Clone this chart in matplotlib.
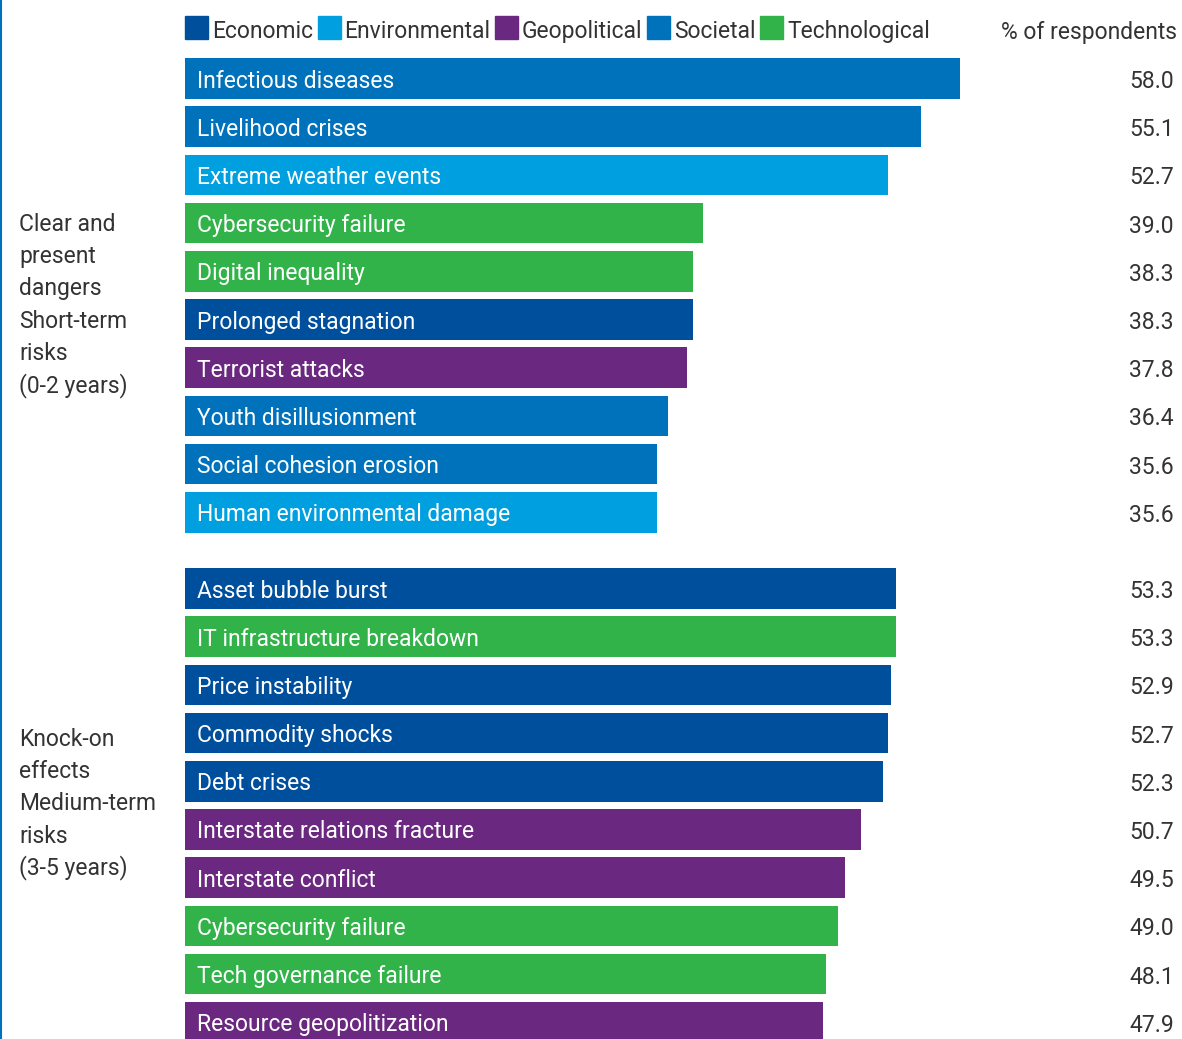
import matplotlib.pyplot as plt
from matplotlib.patches import Rectangle
from matplotlib.lines import Line2D

plt.rcParams['font.family'] = ['Roboto', 'DejaVu Sans']

# Data
short_labels = ['Infectious diseases', 'Livelihood crises', 'Extreme weather events',
                'Cybersecurity failure', 'Digital inequality', 'Prolonged stagnation',
                'Terrorist attacks', 'Youth disillusionment', 'Social cohesion erosion',
                'Human environmental damage']
short_values = [58.0, 55.1, 52.7, 39.0, 38.3, 38.3, 37.8, 36.4, 35.6, 35.6]
short_cats = ['Societal', 'Societal', 'Environmental', 'Technological', 'Technological',
              'Economic', 'Geopolitical', 'Societal', 'Societal', 'Environmental']

medium_labels = ['Asset bubble burst', 'IT infrastructure breakdown', 'Price instability',
                 'Commodity shocks', 'Debt crises', 'Interstate relations fracture',
                 'Interstate conflict', 'Cybersecurity failure', 'Tech governance failure',
                 'Resource geopolitization']
medium_values = [53.3, 53.3, 52.9, 52.7, 52.3, 50.7, 49.5, 49.0, 48.1, 47.9]
medium_cats = ['Economic', 'Technological', 'Economic', 'Economic', 'Economic',
               'Geopolitical', 'Geopolitical', 'Technological', 'Technological', 'Geopolitical']

categories = ['Economic', 'Environmental', 'Geopolitical', 'Societal', 'Technological']
colors = {'Economic': '#004f9d', 'Environmental': '#009fdf', 'Geopolitical': '#6b2880',
          'Societal': '#0071bb', 'Technological': '#32b34a'}

group_titles = [['Clear and', 'present', 'dangers', 'Short-term', 'risks', '(0-2 years)'],
                ['Knock-on', 'effects', 'Medium-term', 'risks', '(3-5 years)']]

W, H = 1182, 1039
fig = plt.figure(figsize=(W / 100, H / 100), dpi=100)

# bar area starts at 185px; value axis does not start exactly at zero
x0_px, ppu, xmin = 185, 13.53, 0.72
ax = fig.add_axes([x0_px / W, 0, 1 - x0_px / W, 1])
pitch, top_px = 48.2, 78.5
ax.set_xlim(xmin, xmin + (W - x0_px) / ppu)
ax.set_ylim((H - top_px) / pitch, -top_px / pitch)
ax.axis('off')
tr = ax.get_yaxis_transform()
aw = W - x0_px

fs = 16.5
cap = 9 / pitch  # half cap height in row units, to centre caps on bars
gap = 28 / pitch
groups = [(short_labels, short_values, short_cats, 0),
          (medium_labels, medium_values, medium_cats, 10 + gap)]
text_color = '#333333'
for labels, values, cats, offset in groups:
    ys = [offset + i for i in range(len(values))]
    ax.barh(ys, values, height=40.5 / pitch, color=[colors[c] for c in cats])
    for y, lab, v in zip(ys, labels, values):
        ax.text(12 / aw, y + cap, lab, transform=tr, color='white', fontsize=fs,
                va='baseline', ha='left')
        ax.text((1174 - x0_px) / aw, y + cap + 0.5 / pitch, f'{v:.1f}', transform=tr,
                color=text_color, fontsize=fs, va='baseline', ha='right')

# group titles, line by line
for lines, first_center in zip(group_titles, [222, 737]):
    for k, line in enumerate(lines):
        fig.text(19 / W, 1 - (first_center + 9 + k * 32.2) / H, line,
                 fontsize=fs, color=text_color, va='baseline', ha='left')

# legend
lx = 185
for cat in categories:
    fig.add_artist(Rectangle((lx / W, 1 - 39 / H), 23 / W, 23 / H, transform=fig.transFigure,
                             color=colors[cat]))
    t = fig.text((lx + 27) / W, 1 - 38 / H, cat, fontsize=fs,
                 color=text_color, va='baseline', ha='left')
    fig.canvas.draw()
    bb = t.get_window_extent()
    lx = bb.x1 + 4.5

fig.text(1177 / W, 1 - 39 / H, '% of respondents', fontsize=fs,
         color=text_color, va='baseline', ha='right')

# thin left border
fig.add_artist(Line2D([1 / W, 1 / W], [0, 1], transform=fig.transFigure,
                      color='#0071bb', linewidth=1.5))

fig.savefig('out.png', dpi=100)
